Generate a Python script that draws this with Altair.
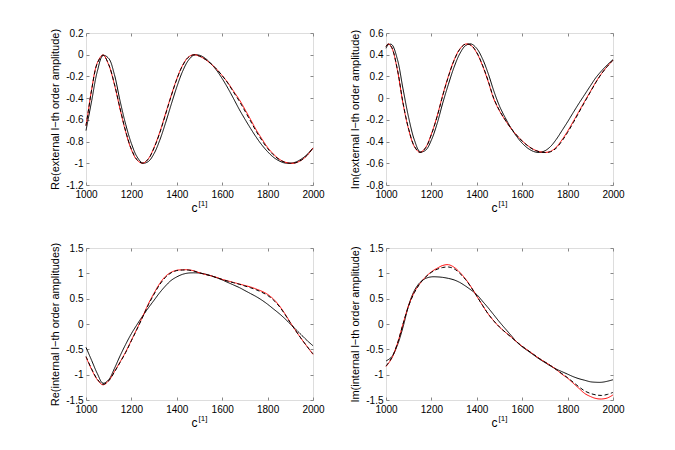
import altair as alt
import pandas as pd

# ---------------- data ----------------
x_top = [1000, 1010, 1025, 1050, 1075, 1100, 1125, 1150, 1175, 1200, 1225, 1250, 1275,
         1300, 1325, 1350, 1375, 1400, 1425, 1450, 1475, 1500, 1525, 1550, 1575, 1600,
         1625, 1650, 1675, 1700, 1725, 1750, 1775, 1800, 1825, 1850, 1875, 1900, 1925,
         1950, 1975, 2000]

re_ext_exact = [-0.652, -0.520, -0.319, -0.074, -0.002, -0.093, -0.273, -0.500, -0.712, -0.875,
                -0.971, -0.999, -0.957, -0.853, -0.714, -0.546, -0.378, -0.223, -0.100, -0.024,
                0.000, -0.014, -0.043, -0.084, -0.133, -0.192, -0.258, -0.336, -0.413, -0.503,
                -0.597, -0.693, -0.776, -0.854, -0.914, -0.960, -0.988, -1.000, -0.995, -0.970,
                -0.925, -0.860]
re_ext_dashed = [-0.655, -0.522, -0.322, -0.078, -0.004, -0.090, -0.268, -0.494, -0.706, -0.870,
                 -0.968, -0.999, -0.960, -0.858, -0.720, -0.552, -0.383, -0.226, -0.102, -0.025,
                 -0.001, -0.013, -0.042, -0.082, -0.132, -0.193, -0.262, -0.345, -0.426, -0.518,
                 -0.612, -0.706, -0.789, -0.864, -0.921, -0.964, -0.990, -1.000, -0.994, -0.969,
                 -0.924, -0.858]
re_ext_approx = [-0.699, -0.589, -0.425, -0.152, -0.007, -0.034, -0.182, -0.425, -0.643, -0.818,
                 -0.941, -0.998, -0.983, -0.910, -0.787, -0.631, -0.461, -0.297, -0.156, -0.055,
                 -0.004, -0.005, -0.033, -0.081, -0.143, -0.220, -0.308, -0.404, -0.503, -0.593,
                 -0.679, -0.760, -0.832, -0.893, -0.943, -0.977, -0.997, -0.999, -0.988, -0.959,
                 -0.917, -0.858]

im_ext_exact = [0.477, 0.500, 0.466, 0.261, -0.050, -0.290, -0.446, -0.500, -0.453, -0.330,
                -0.167, 0.029, 0.203, 0.351, 0.452, 0.498, 0.485, 0.416, 0.300, 0.154,
                -0.008, -0.117, -0.202, -0.277, -0.340, -0.394, -0.438, -0.472, -0.492, -0.500,
                -0.490, -0.452, -0.385, -0.305, -0.215, -0.122, -0.030, 0.060, 0.150, 0.228,
                0.293, 0.350]
im_ext_dashed = [0.475, 0.499, 0.468, 0.266, -0.044, -0.286, -0.444, -0.500, -0.456, -0.335,
                 -0.172, 0.024, 0.199, 0.348, 0.450, 0.498, 0.487, 0.420, 0.305, 0.160,
                 -0.003, -0.114, -0.200, -0.276, -0.340, -0.395, -0.440, -0.474, -0.494, -0.501,
                 -0.494, -0.460, -0.395, -0.316, -0.226, -0.131, -0.037, 0.055, 0.146, 0.226,
                 0.292, 0.350]
im_ext_approx = [0.459, 0.492, 0.494, 0.359, 0.085, -0.181, -0.385, -0.494, -0.479, -0.386,
                 -0.236, -0.045, 0.128, 0.286, 0.409, 0.483, 0.499, 0.457, 0.363, 0.228,
                 0.066, -0.073, -0.179, -0.273, -0.351, -0.415, -0.462, -0.491, -0.500, -0.485,
                 -0.445, -0.380, -0.300, -0.218, -0.132, -0.048, 0.032, 0.112, 0.190, 0.252,
                 0.307, 0.355]

x_bottom = [1000, 1025, 1050, 1075, 1100, 1125, 1150, 1175, 1200, 1225, 1250, 1275, 1300,
            1325, 1350, 1375, 1400, 1425, 1450, 1475, 1500, 1525, 1550, 1575, 1600, 1625,
            1650, 1675, 1700, 1725, 1750, 1775, 1800, 1825, 1850, 1875, 1900, 1925, 1950,
            1975, 2000]

re_int_exact = [-0.65, -0.90, -1.10, -1.20, -1.12, -0.94, -0.75, -0.55, -0.32, -0.09,
                0.15, 0.40, 0.61, 0.80, 0.94, 1.02, 1.06, 1.07, 1.07, 1.05,
                1.01, 0.98, 0.95, 0.92, 0.88, 0.85, 0.82, 0.79, 0.76, 0.73,
                0.69, 0.645, 0.585, 0.495, 0.37, 0.21, 0.03, -0.14, -0.30, -0.45, -0.60]
re_int_dashed = [-0.64, -0.89, -1.09, -1.19, -1.12, -0.95, -0.76, -0.56, -0.33, -0.10,
                 0.14, 0.38, 0.59, 0.78, 0.92, 1.01, 1.055, 1.065, 1.065, 1.045,
                 1.01, 0.98, 0.95, 0.915, 0.88, 0.845, 0.815, 0.785, 0.75, 0.715,
                 0.675, 0.625, 0.565, 0.475, 0.355, 0.20, 0.025, -0.14, -0.30, -0.45, -0.59]
re_int_approx = [-0.46, -0.72, -0.98, -1.17, -1.10, -0.88, -0.63, -0.40, -0.19, -0.01,
                 0.16, 0.32, 0.47, 0.62, 0.75, 0.86, 0.93, 0.98, 1.005, 1.01,
                 1.005, 0.985, 0.955, 0.915, 0.87, 0.82, 0.77, 0.72, 0.66, 0.60,
                 0.54, 0.47, 0.39, 0.30, 0.21, 0.11, 0.00, -0.11, -0.22, -0.33, -0.43]

im_int_exact = [-0.84, -0.68, -0.39, 0.00, 0.37, 0.63, 0.80, 0.93, 1.03, 1.10,
                1.155, 1.17, 1.12, 1.02, 0.89, 0.73, 0.55, 0.37, 0.20, 0.06,
                -0.06, -0.16, -0.25, -0.35, -0.44, -0.52, -0.60, -0.68, -0.75, -0.82,
                -0.90, -0.99, -1.07, -1.17, -1.27, -1.37, -1.43, -1.47, -1.48, -1.46, -1.40]
im_int_dashed = [-0.83, -0.67, -0.39, 0.00, 0.36, 0.62, 0.80, 0.93, 1.02, 1.08,
                 1.115, 1.125, 1.09, 1.00, 0.88, 0.725, 0.55, 0.37, 0.20, 0.06,
                 -0.06, -0.16, -0.255, -0.35, -0.44, -0.52, -0.60, -0.68, -0.75, -0.82,
                 -0.90, -0.98, -1.06, -1.15, -1.24, -1.32, -1.37, -1.40, -1.41, -1.39, -1.35]
im_int_approx = [-0.73, -0.65, -0.42, -0.06, 0.37, 0.66, 0.82, 0.90, 0.93, 0.93,
                 0.92, 0.90, 0.87, 0.82, 0.75, 0.67, 0.58, 0.45, 0.32, 0.18,
                 0.04, -0.09, -0.22, -0.35, -0.45, -0.53, -0.61, -0.69, -0.76, -0.83,
                 -0.89, -0.94, -0.99, -1.04, -1.08, -1.11, -1.14, -1.15, -1.15, -1.13, -1.10]

x_ticks = [1000, 1200, 1400, 1600, 1800, 2000]
y_ticks_re_ext = [-1.2, -1.0, -0.8, -0.6, -0.4, -0.2, 0.0, 0.2]
y_ticks_im_ext = [-0.8, -0.6, -0.4, -0.2, 0.0, 0.2, 0.4, 0.6]
y_ticks_int = [-1.5, -1.0, -0.5, 0.0, 0.5, 1.0, 1.5]

series_names = ["approx", "exact", "dashed"]

# ---------------- styling ----------------
FONT = "Liberation Sans"
W, H = 227, 152
LBL = "replace(format(datum.value, '~g'), '\u2212', '-')"
FRAME = "#4d4d4d"
TITLE_SIZE = 11


def panel(xs, exact, dashed, approx, ydom, yvals, ytitle):
    rows = []
    for name, ys in zip(series_names, (approx, exact, dashed)):
        for xv, yv in zip(xs, ys):
            rows.append({"c": xv, "v": yv, "s": name})
    df = pd.DataFrame(rows)

    xsc = alt.Scale(domain=[1000, 2000], nice=False, zero=False)
    ysc = alt.Scale(domain=ydom, nice=False, zero=False)

    lines = alt.Chart(df).mark_line(strokeWidth=1, interpolate="catmull-rom").encode(
        x=alt.X("c:Q", scale=xsc, axis=alt.Axis(
            orient="bottom", values=x_ticks, ticks=False, domain=False, grid=False,
            title=None, labelPadding=4, labelFlush=False, labelExpr=LBL)),
        y=alt.Y("v:Q", scale=ysc, axis=alt.Axis(
            orient="left", values=yvals, ticks=False, domain=False, grid=False,
            title=ytitle, titleFontWeight="normal", titleFontSize=TITLE_SIZE, titleFont=FONT,
            labelPadding=3, titlePadding=5, labelFlush=False, labelExpr=LBL)),
        color=alt.Color("s:N", scale=alt.Scale(domain=series_names,
                                               range=["#000000", "#ff0000", "#000000"]),
                        legend=None),
        strokeDash=alt.StrokeDash("s:N", scale=alt.Scale(domain=series_names,
                                                         range=[[1, 0], [1, 0], [4, 2.5]]),
                                  legend=None),
        order=alt.Order("c:Q"),
    )

    ticks_a = alt.Chart(df).mark_line(opacity=0).encode(
        x=alt.X("c:Q", scale=xsc, axis=alt.Axis(
            orient="top", offset=-H, values=x_ticks, labels=False, domain=False,
            grid=False, tickSize=3, title=None)),
        y=alt.Y("v:Q", scale=ysc, axis=alt.Axis(
            orient="right", offset=-W, values=yvals, labels=False, domain=False,
            grid=False, tickSize=3, title=None)),
    )
    ticks_b = alt.Chart(df).mark_line(opacity=0).encode(
        x=alt.X("c:Q", scale=xsc, axis=alt.Axis(
            orient="bottom", offset=-H, values=x_ticks, labels=False, domain=False,
            grid=False, tickSize=3, title=None)),
        y=alt.Y("v:Q", scale=ysc, axis=alt.Axis(
            orient="left", offset=-W, values=yvals, labels=False, domain=False,
            grid=False, tickSize=3, title=None)),
    )

    c_txt = alt.Chart(pd.DataFrame({"t": ["c"]})).mark_text(
        font=FONT, fontSize=12, align="center", baseline="alphabetic", color="#000"
    ).encode(x=alt.value(W / 2 - 5), y=alt.value(H + 27), text="t:N")
    sup_txt = alt.Chart(pd.DataFrame({"t": ["[1]"]})).mark_text(
        font=FONT, fontSize=8, align="left", baseline="alphabetic", color="#000"
    ).encode(x=alt.value(W / 2 - 1), y=alt.value(H + 21), text="t:N")

    return alt.layer(lines, ticks_a, ticks_b, c_txt, sup_txt).resolve_axis(
        x="independent", y="independent"
    ).properties(width=W, height=H)


p1 = panel(x_top, re_ext_exact, re_ext_dashed, re_ext_approx, [-1.2, 0.2],
           y_ticks_re_ext, "Re(external l\u2212th order amplitude)")
p2 = panel(x_top, im_ext_exact, im_ext_dashed, im_ext_approx, [-0.8, 0.6],
           y_ticks_im_ext, "Im(external l\u2212th order amplitude)")
p3 = panel(x_bottom, re_int_exact, re_int_dashed, re_int_approx, [-1.5, 1.5],
           y_ticks_int, "Re(internal l\u2212th order amplitudes)")
p4 = panel(x_bottom, im_int_exact, im_int_dashed, im_int_approx, [-1.5, 1.5],
           y_ticks_int, "Im(internal l\u2212th order amplitude)")

row1 = alt.hconcat(p1, p2, spacing=24)
row2 = alt.hconcat(p3, p4, spacing=24)

chart = alt.vconcat(row1, row2, spacing=26).properties(
    padding={"left": 41, "top": 19, "right": 5, "bottom": 5}
).configure_view(
    stroke=FRAME, strokeWidth=0.8
).configure_axis(
    labelFont=FONT, labelFontSize=10, labelColor="#000000",
    titleFont=FONT, titleFontSize=TITLE_SIZE, titleFontWeight="normal", titleColor="#000000",
    tickColor=FRAME, tickWidth=0.8
).configure(background="white")

chart.save("out.html", embed_options={"renderer": "svg", "actions": False})
